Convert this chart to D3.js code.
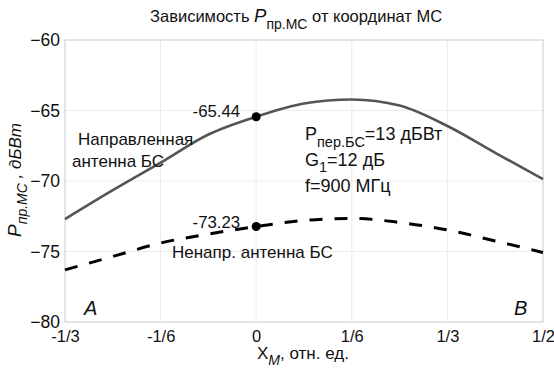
<!DOCTYPE html>
<html><head><meta charset="utf-8">
<script src="https://cdn.jsdelivr.net/npm/d3@7"></script>
<style>
body{margin:0;background:#fff;}
text{font-family:"Liberation Sans",Arial,sans-serif;fill:#111;}
</style></head>
<body><svg id="c" width="554" height="370"></svg>
<script>
const xs = [-1/3,-1/4,-1/6,-1/12,0,1/12,1/6,1/4,1/3,5/12,1/2];
const directed = [-72.7,-70.65,-68.7,-66.7,-65.44,-64.5,-64.22,-64.65,-66.1,-68.0,-69.86];
const omni = [-76.3,-75.35,-74.4,-73.76,-73.23,-72.8,-72.65,-72.94,-73.47,-74.25,-75.07];
const xTicks = [-1/3,-1/6,0,1/6,1/3,1/2];
const xTickLabels = ["-1/3","-1/6","0","1/6","1/3","1/2"];
const yTicks = [-80,-75,-70,-65,-60];
const markX = 0;
const markDirected = -65.44;
const markOmni = -73.23;

const svg = d3.select("#c");
const L=65,R=543,T=40,B=322;
const x = d3.scaleLinear().domain([-1/3,1/2]).range([L,R]);
const y = d3.scaleLinear().domain([-80,-60]).range([B,T]);

// grid
svg.append("g").selectAll("line").data(xTicks).join("line")
  .attr("x1",d=>x(d)).attr("x2",d=>x(d)).attr("y1",T).attr("y2",B)
  .attr("stroke","#ececec").attr("stroke-width",1);
svg.append("g").selectAll("line").data(yTicks).join("line")
  .attr("y1",d=>y(d)).attr("y2",d=>y(d)).attr("x1",L).attr("x2",R)
  .attr("stroke","#ececec").attr("stroke-width",1);
svg.append("rect").attr("x",L).attr("y",T).attr("width",R-L).attr("height",B-T)
  .attr("fill","none").attr("stroke","#d4d4d4").attr("stroke-width",1);

// axes tick labels
const xa = d3.axisBottom(x).tickValues(xTicks).tickFormat((d,i)=>xTickLabels[i]).tickSize(0).tickPadding(8);
const gx = svg.append("g").attr("transform",`translate(0,${B})`).call(xa);
gx.select(".domain").remove();
gx.selectAll("text").attr("font-size",16.5).attr("fill","#111").attr("font-family","Liberation Sans, Arial, sans-serif");
const ya = d3.axisLeft(y).tickValues(yTicks).tickFormat(d3.format("d")).tickSize(0).tickPadding(5);
const gy = svg.append("g").attr("transform",`translate(${L},0)`).call(ya);
gy.select(".domain").remove();
gy.selectAll("text").attr("font-size",17.5).attr("fill","#111").attr("font-family","Liberation Sans, Arial, sans-serif");

// lines
const line = d3.line().x((d,i)=>x(xs[i])).y(d=>y(d)).curve(d3.curveMonotoneX);
svg.append("path").datum(directed).attr("d",line).attr("fill","none")
  .attr("stroke","#555").attr("stroke-width",2.6);
svg.append("path").datum(omni).attr("d",line).attr("fill","none")
  .attr("stroke","#000").attr("stroke-width",3).attr("stroke-dasharray","13,12");

// markers
svg.append("g").selectAll("circle").data([markDirected,markOmni]).join("circle")
  .attr("cx",x(markX)).attr("cy",d=>y(d)).attr("r",4.5).attr("fill","#000");

// annotations
svg.append("text").attr("x",x(markX)-16).attr("y",y(markDirected)).attr("text-anchor","end").attr("font-size",16.8).text(markDirected.toFixed(2));
svg.append("text").attr("x",x(markX)-16).attr("y",y(markOmni)+1).attr("text-anchor","end").attr("font-size",16.8).text(markOmni.toFixed(2));
svg.append("text").attr("x",78).attr("y",145).attr("font-size",17).text("Направленная");
svg.append("text").attr("x",72).attr("y",167).attr("font-size",17).text("антенна БС");
svg.append("text").attr("x",172).attr("y",258).attr("font-size",17).text("Ненапр. антенна БС");

const t1 = svg.append("text").attr("x",305).attr("y",140).attr("font-size",18);
t1.append("tspan").text("P");
t1.append("tspan").attr("dy",7).attr("font-size",14.5).text("пер.БС");
t1.append("tspan").attr("dy",-7).text("=13 дБВт");
const t2 = svg.append("text").attr("x",305).attr("y",166).attr("font-size",18);
t2.append("tspan").text("G");
t2.append("tspan").attr("dy",6).attr("font-size",14.5).text("1");
t2.append("tspan").attr("dy",-6).text("=12 дБ");
svg.append("text").attr("x",305).attr("y",192).attr("font-size",18).text("f=900 МГц");

svg.append("text").attr("x",84).attr("y",315).attr("font-size",20).attr("font-style","italic").text("A");
svg.append("text").attr("x",514).attr("y",315).attr("font-size",20).attr("font-style","italic").text("B");

// title
const tt = svg.append("text").attr("x",150).attr("y",22).attr("font-size",16.5);
tt.append("tspan").text("Зависимость ");
tt.append("tspan").attr("font-style","italic").attr("font-size",18.5).text("P");
tt.append("tspan").attr("dy",7).attr("font-size",14).text("пр.МС");
tt.append("tspan").attr("dy",-7).text(" от координат МС");

// x label
const xl = svg.append("text").attr("x",257).attr("y",359).attr("font-size",17);
xl.append("tspan").text("X");
xl.append("tspan").attr("dy",6).attr("font-size",14).attr("font-style","italic").text("M");
xl.append("tspan").attr("dy",-6).text(", отн. ед.");

// y label
const yl = svg.append("text").attr("transform","translate(21,237) rotate(-90)").attr("font-size",17).attr("font-style","italic");
yl.append("tspan").attr("font-size",19).text("P");
yl.append("tspan").attr("dy",6).attr("font-size",14).text("пр.МС");
yl.append("tspan").attr("dy",-6).text(" , дБВт");
</script></body></html>
